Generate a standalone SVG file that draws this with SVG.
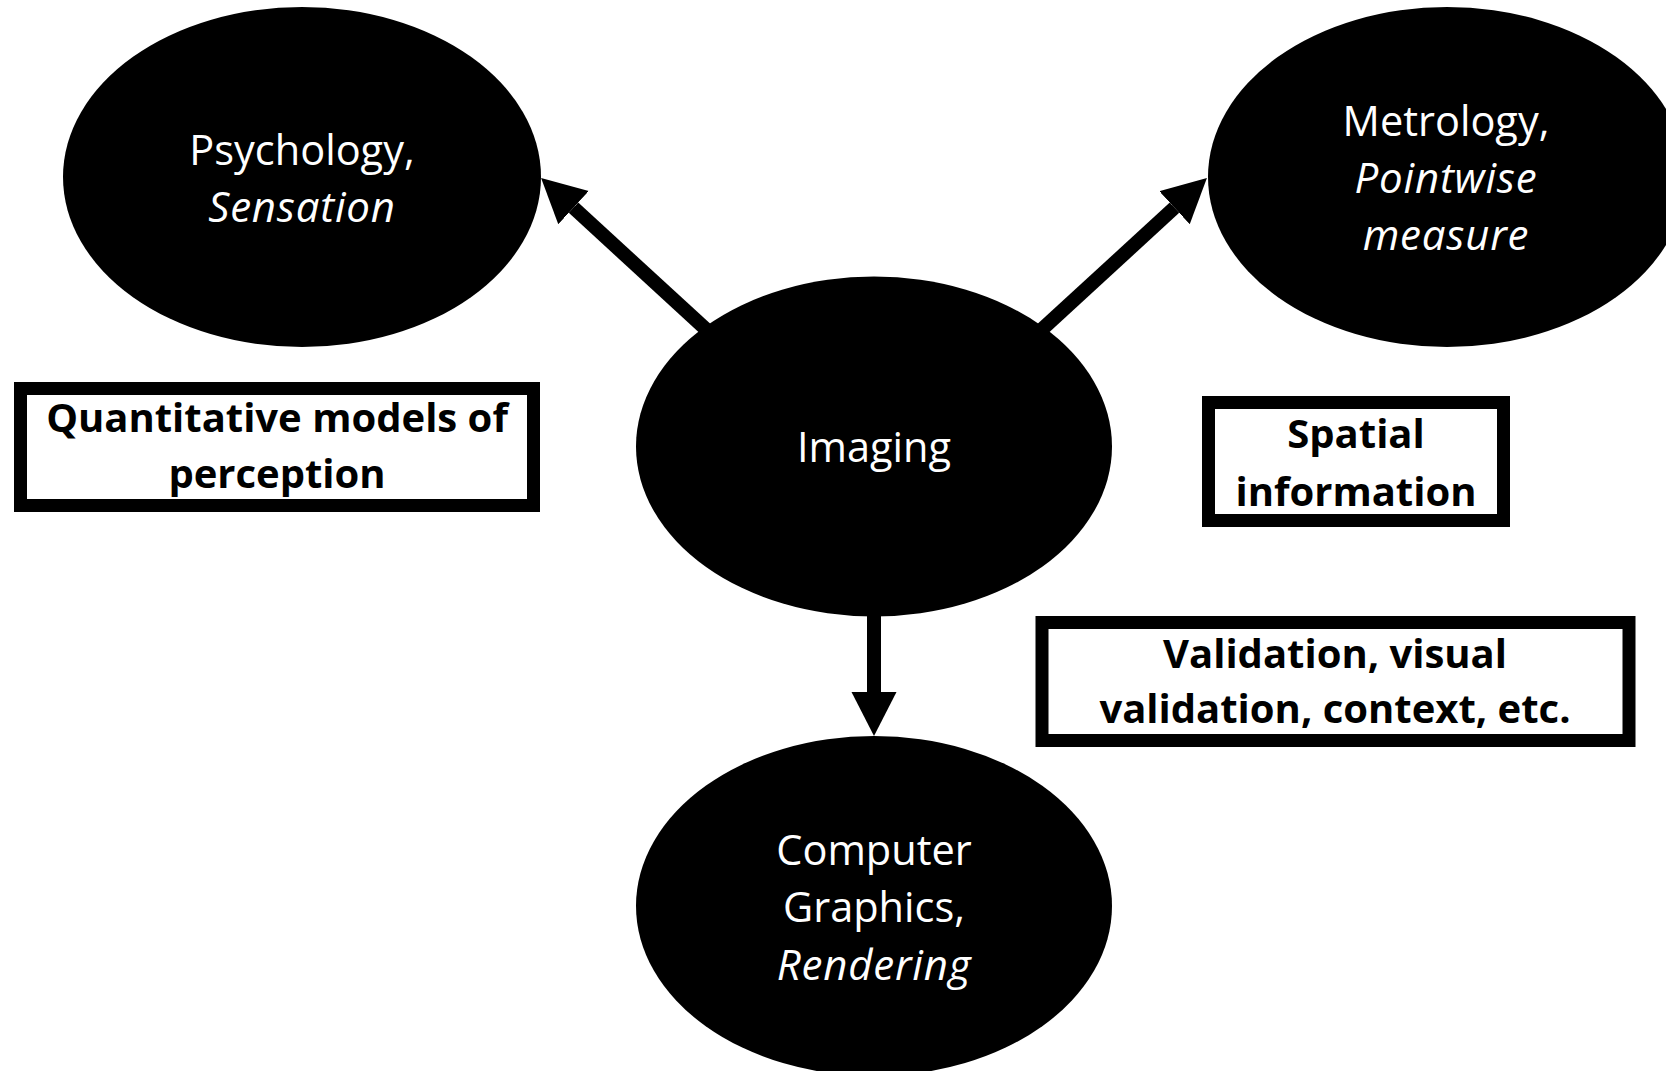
<svg xmlns="http://www.w3.org/2000/svg" width="1666" height="1071" viewBox="0 0 1666 1071">
<style>
.node{fill:#000}
.nt{fill:#fff;font-family:"Open Sans","Noto Sans",sans-serif;font-size:41.5px;text-anchor:middle}
.it{font-style:italic;font-size:42px;letter-spacing:0.8px}
.box{fill:#fff;stroke:#000;stroke-width:13}
.bt{fill:#000;font-family:"Open Sans","Noto Sans",sans-serif;font-size:40px;font-weight:bold;text-anchor:middle}
.conn{stroke:#000;stroke-width:14;fill:none}
</style>
<defs>
<marker id="ah" markerUnits="userSpaceOnUse" markerWidth="46" markerHeight="46" refX="0" refY="22.5" orient="auto" viewBox="0 0 46 46">
<path d="M0,0 L44,22.5 L0,45 Z" fill="#000"/>
</marker>
</defs>
<rect width="1666" height="1071" fill="#fff"/>
<g id="connectors">
<line class="conn" x1="710" y1="333" x2="573.5" y2="207.7" marker-end="url(#ah)"/>
<line class="conn" x1="1038" y1="333" x2="1174.5" y2="207.7" marker-end="url(#ah)"/>
<line class="conn" x1="874" y1="600" x2="874" y2="692" marker-end="url(#ah)"/>
</g>
<g id="psychology">
<ellipse class="node" cx="302" cy="177" rx="239" ry="170"/>
<text class="nt" x="302" y="165">Psychology,</text>
<text class="nt it" x="302" y="222">Sensation</text>
</g>
<g id="metrology">
<ellipse class="node" cx="1447" cy="177" rx="239" ry="170"/>
<text class="nt" x="1446" y="136">Metrology,</text>
<text class="nt it" x="1446" y="193">Pointwise</text>
<text class="nt it" x="1446" y="250">measure</text>
</g>
<g id="imaging">
<ellipse class="node" cx="874" cy="446.5" rx="238" ry="170"/>
<text class="nt" x="874" y="462">Imaging</text>
</g>
<g id="computer-graphics">
<ellipse class="node" cx="874" cy="906" rx="238" ry="170"/>
<text class="nt" x="874" y="865">Computer</text>
<text class="nt" x="874" y="922">Graphics,</text>
<text class="nt it" x="874" y="980">Rendering</text>
</g>
<g id="quantitative-models">
<rect class="box" x="20.5" y="388.5" width="513" height="117"/>
<text class="bt" x="277" y="432">Quantitative models of</text>
<text class="bt" x="277" y="488">perception</text>
</g>
<g id="spatial-information">
<rect class="box" x="1208.5" y="402.5" width="295" height="118"/>
<text class="bt" x="1356" y="448">Spatial</text>
<text class="bt" x="1356" y="506">information</text>
</g>
<g id="validation">
<rect class="box" x="1042" y="622.5" width="587" height="118"/>
<text class="bt" x="1335" y="668">Validation, visual</text>
<text class="bt" x="1335" y="723">validation, context, etc.</text>
</g>
</svg>
